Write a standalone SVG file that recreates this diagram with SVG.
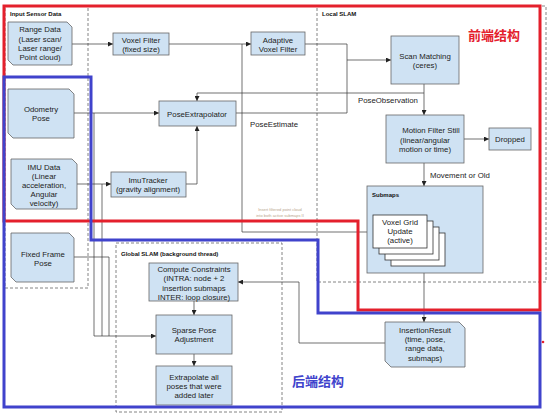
<svg xmlns="http://www.w3.org/2000/svg" width="553" height="415" viewBox="0 0 553 415">
<defs>
<marker id="arr" viewBox="0 0 6 6" refX="6" refY="3" markerWidth="5" markerHeight="5" orient="auto" markerUnits="userSpaceOnUse">
<path d="M0,0 L6,3 L0,6 Z" fill="#222"/>
</marker>
</defs>
<style>
.node{fill:#cfe2f3;stroke:#666;stroke-width:0.8}
.card{fill:#fff;stroke:#333;stroke-width:0.8}
.t{font-family:"Liberation Sans",Arial,sans-serif;font-size:7.8px;fill:#222;text-anchor:middle}
.l{font-family:"Liberation Sans",Arial,sans-serif;font-size:7.8px;fill:#222}
.b{font-family:"Liberation Sans",Arial,sans-serif;font-size:6px;font-weight:bold;fill:#111}
.panel{fill:none;stroke:#666;stroke-width:0.8;stroke-dasharray:3,2}
.c{fill:none;stroke:#333;stroke-width:0.7}
.ca{fill:none;stroke:#333;stroke-width:0.7;marker-end:url(#arr)}
.tiny{font-family:"Liberation Sans",Arial,sans-serif;font-size:4px;fill:#b8a58c;text-anchor:middle}
.cn{font-family:"Noto Sans CJK SC",sans-serif;font-size:13px;font-weight:bold}
</style>
<rect width="553" height="415" fill="#fff"/>

<g id="panels">
<rect class="panel" x="5" y="6" width="83" height="282"/>
<rect class="panel" x="317" y="6" width="229" height="276"/>
<rect class="panel" x="116" y="243" width="166" height="169"/>
<text class="b" x="10" y="16">Input Sensor Data</text>
<text class="b" x="322" y="16">Local SLAM</text>
<text class="b" x="121" y="256">Global SLAM (background thread)</text>
</g>

<g id="connectors">
<path class="ca" d="M72,44 H113"/>
<path class="ca" d="M169,44 H251"/>
<path class="c" d="M242,44 V232"/>
<path class="ca" d="M242,232 H373"/>
<path class="c" d="M305,44 H347 V113 H236"/>
<path class="ca" d="M347,60 H391"/>
<path class="ca" d="M424,84 V115"/>
<path class="c" d="M424,93 H197"/>
<path class="ca" d="M197,93 V101"/>
<path class="ca" d="M464,139 H489"/>
<path class="ca" d="M424,163 V186"/>
<path class="ca" d="M424,273 V322"/>
<path class="c" d="M385,343 H299 V282"/>
<path class="ca" d="M299,282 H238"/>
<path class="ca" d="M194,301 V315"/>
<path class="ca" d="M194,354 V366"/>
<path class="ca" d="M74,113 H159"/>
<path class="ca" d="M77,184 H111"/>
<path class="ca" d="M186,184 H197 V126"/>
<path class="c" d="M74,257 H109 V336"/>
<path class="c" d="M94,113 V336"/>
<path class="c" d="M102,184 V336"/>
<path class="ca" d="M94,336 H156"/>
<text class="l" x="250" y="127">PoseEstimate</text>
<text class="l" x="358" y="103">PoseObservation</text>
<text class="l" x="430" y="178">Movement or Old</text>
<text class="tiny" x="280" y="211">Insert filtered point cloud</text>
<text class="tiny" x="280" y="217">into both active submaps II</text>
</g>

<g id="range-data">
<polygon class="node" points="8,22 67,22 72,27 72,65 13,65 8,60"/>
<text class="t" x="40" y="32">Range Data</text>
<text class="t" x="40" y="42">(Laser scan/</text>
<text class="t" x="40" y="51">Laser range/</text>
<text class="t" x="40" y="60">Point cloud)</text>
</g>
<g id="odometry">
<polygon class="node" points="8,89 69,89 74,94 74,138 13,138 8,133"/>
<text class="t" x="41" y="112">Odometry</text>
<text class="t" x="41" y="121">Pose</text>
</g>
<g id="imu-data">
<polygon class="node" points="11,159 72,159 77,164 77,209 16,209 11,204"/>
<text class="t" x="44" y="170">IMU Data</text>
<text class="t" x="44" y="179">(Linear</text>
<text class="t" x="44" y="188">acceleration,</text>
<text class="t" x="44" y="197">Angular</text>
<text class="t" x="44" y="206">velocity)</text>
</g>
<g id="fixed-frame">
<polygon class="node" points="11,233 69,233 74,238 74,282 16,282 11,277"/>
<text class="t" x="43" y="257">Fixed Frame</text>
<text class="t" x="43" y="266">Pose</text>
</g>
<g id="voxel-filter">
<rect class="node" x="113" y="33" width="56" height="22"/>
<text class="t" x="141" y="43">Voxel Filter</text>
<text class="t" x="141" y="52">(fixed size)</text>
</g>
<g id="adaptive-voxel-filter">
<rect class="node" x="251" y="32" width="54" height="23"/>
<text class="t" x="278" y="43">Adaptive</text>
<text class="t" x="278" y="52">Voxel Filter</text>
</g>
<g id="pose-extrapolator">
<rect class="node" x="159" y="101" width="77" height="25"/>
<text class="t" x="197" y="117">PoseExtrapolator</text>
</g>
<g id="imu-tracker">
<rect class="node" x="111" y="172" width="75" height="25"/>
<text class="t" x="148" y="183">ImuTracker</text>
<text class="t" x="148" y="192">(gravity alignment)</text>
</g>
<g id="scan-matching">
<rect class="node" x="391" y="36" width="68" height="48"/>
<text class="t" x="425" y="59">Scan Matching</text>
<text class="t" x="425" y="68">(ceres)</text>
</g>
<g id="motion-filter">
<rect class="node" x="386" y="115" width="78" height="48"/>
<text class="t" x="431" y="133">Motion Filter Still</text>
<text class="t" x="425" y="143">(linear/angular</text>
<text class="t" x="425" y="152">motion or time)</text>
</g>
<g id="dropped">
<rect class="node" x="489" y="128" width="42" height="22"/>
<text class="t" x="510" y="142">Dropped</text>
</g>
<g id="submaps">
<rect class="node" x="367" y="186" width="116" height="87"/>
<text class="b" x="372" y="197">Submaps</text>
<rect class="card" x="391" y="233" width="54" height="33"/>
<rect class="card" x="385" y="227" width="54" height="33"/>
<rect class="card" x="379" y="221" width="54" height="33"/>
<rect class="card" x="373" y="215" width="54" height="33"/>
<text class="t" x="400" y="225">Voxel Grid</text>
<text class="t" x="400" y="234">Update</text>
<text class="t" x="400" y="243">(active)</text>
</g>
<g id="compute-constraints">
<rect class="node" x="149" y="263" width="89" height="38"/>
<text class="t" x="194" y="272">Compute Constraints</text>
<text class="t" x="194" y="281">(INTRA: node + 2</text>
<text class="t" x="194" y="291">insertion submaps</text>
<text class="t" x="194" y="300">INTER: loop closure)</text>
</g>
<g id="sparse-pose">
<rect class="node" x="156" y="315" width="76" height="39"/>
<text class="t" x="194" y="333">Sparse Pose</text>
<text class="t" x="194" y="342">Adjustment</text>
</g>
<g id="extrapolate">
<rect class="node" x="156" y="366" width="76" height="39"/>
<text class="t" x="194" y="380">Extrapolate all</text>
<text class="t" x="194" y="389">poses that were</text>
<text class="t" x="194" y="398">added later</text>
</g>
<g id="insertion-result">
<polygon class="node" points="385,322 459,322 465,328 465,367 391,367 385,361"/>
<text class="t" x="425" y="333">InsertionResult</text>
<text class="t" x="425" y="342">(time, pose,</text>
<text class="t" x="425" y="351">range data,</text>
<text class="t" x="425" y="361">submaps)</text>
</g>

<g id="frontend">
<path d="M4,6 H540 V310 H358 V221 H4 Z" fill="none" stroke="#e4202c" stroke-width="3"/>
<text class="cn" x="468" y="40" fill="#e4202c">前端结构</text>
</g>
<g id="backend">
<path d="M4,77 H91 V240 H318 V313 H540 V407 H4 Z" fill="none" stroke="#4043cc" stroke-width="3"/>
<text class="cn" x="292" y="386" fill="#4043cc">后端结构</text>
</g>
<circle cx="543" cy="342" r="1.3" fill="#e4202c"/>
</svg>
